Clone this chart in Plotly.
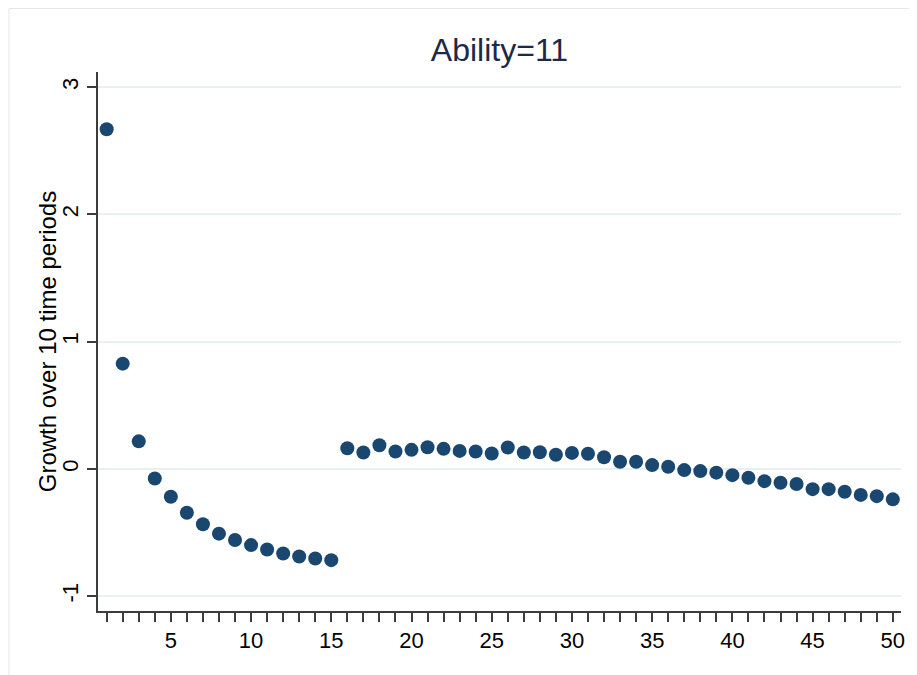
import plotly.graph_objects as go

period = list(range(1, 51))
growth = [2.67, 0.827, 0.216, -0.076, -0.22, -0.345, -0.436, -0.51, -0.56, -0.60,
          -0.634, -0.666, -0.69, -0.705, -0.718,
          0.162, 0.128, 0.185, 0.136, 0.149, 0.17, 0.157, 0.141, 0.136, 0.12,
          0.167, 0.128, 0.13, 0.11, 0.125, 0.118, 0.091, 0.055, 0.055, 0.029,
          0.016, -0.01, -0.018, -0.03, -0.05, -0.07, -0.097, -0.11, -0.12, -0.16,
          -0.16, -0.18, -0.205, -0.215, -0.24]
y_ticks = [-1, 0, 1, 2, 3]
title_text = "Ability=11"
y_title = "Growth over 10 time periods"

FONT = "Liberation Sans, Arial, sans-serif"
# page body has an 8px margin, so the figure is sized to fit the 917x675 window
W, H = 909, 667
L, R, T, B = 90, 897, 64, 603

fig = go.Figure()
fig.add_trace(go.Scatter(
    x=period, y=growth, mode="markers",
    marker=dict(color="#1a476f", size=14, line=dict(width=0)),
    showlegend=False,
))

fig.update_layout(
    width=W, height=H,
    margin=dict(l=L, r=W - R, t=T, b=H - B, pad=0),
    paper_bgcolor="white", plot_bgcolor="white",
    font=dict(family=FONT, color="#000000", size=22),
    title=dict(text=title_text, x=0.5, xref="paper", xanchor="center",
               y=1 - 42 / H, yref="container", yanchor="middle",
               font=dict(family=FONT, size=32, color="#1c2a48")),
    annotations=[dict(text=y_title, textangle=-90, showarrow=False,
                      xref="paper", yref="paper",
                      x=(39.5 - L) / (R - L), y=0.5,
                      xanchor="center", yanchor="middle",
                      font=dict(family=FONT, size=24, color="#000000"))],
    shapes=[dict(type="rect", xref="paper", yref="paper",
                 x0=(0.5 - L) / (R - L), x1=(W + 20 - L) / (R - L),
                 y0=(B - (H + 20)) / (B - T), y1=(B - 0.5) / (B - T),
                 line=dict(color="#e6e6e6", width=1), fillcolor="rgba(0,0,0,0)",
                 layer="below")],
)

fig.update_xaxes(
    range=[0.46, 50.51], showgrid=False, zeroline=False,
    showline=True, linecolor="#3c3c3c", linewidth=1.5,
    ticks="outside", ticklen=9, tickwidth=1.5, tickcolor="#3c3c3c",
    tick0=0, dtick=5, tickfont=dict(size=22, family=FONT),
    minor=dict(dtick=1, tick0=0, ticks="outside", ticklen=9, tickwidth=1.5,
               tickcolor="#3c3c3c", showgrid=False),
)
fig.update_yaxes(
    range=[-1.118, 3.12], showgrid=True, gridcolor="#e9f0f2", gridwidth=1.5,
    zeroline=False, showline=True, linecolor="#3c3c3c", linewidth=1.5,
    ticks="outside", ticklen=9, tickwidth=1.5, tickcolor="#3c3c3c",
    tickvals=y_ticks, ticktext=[str(v) for v in y_ticks], tickangle=-90,
    tickfont=dict(size=22, family=FONT),
)

fig.write_html("out.html")
